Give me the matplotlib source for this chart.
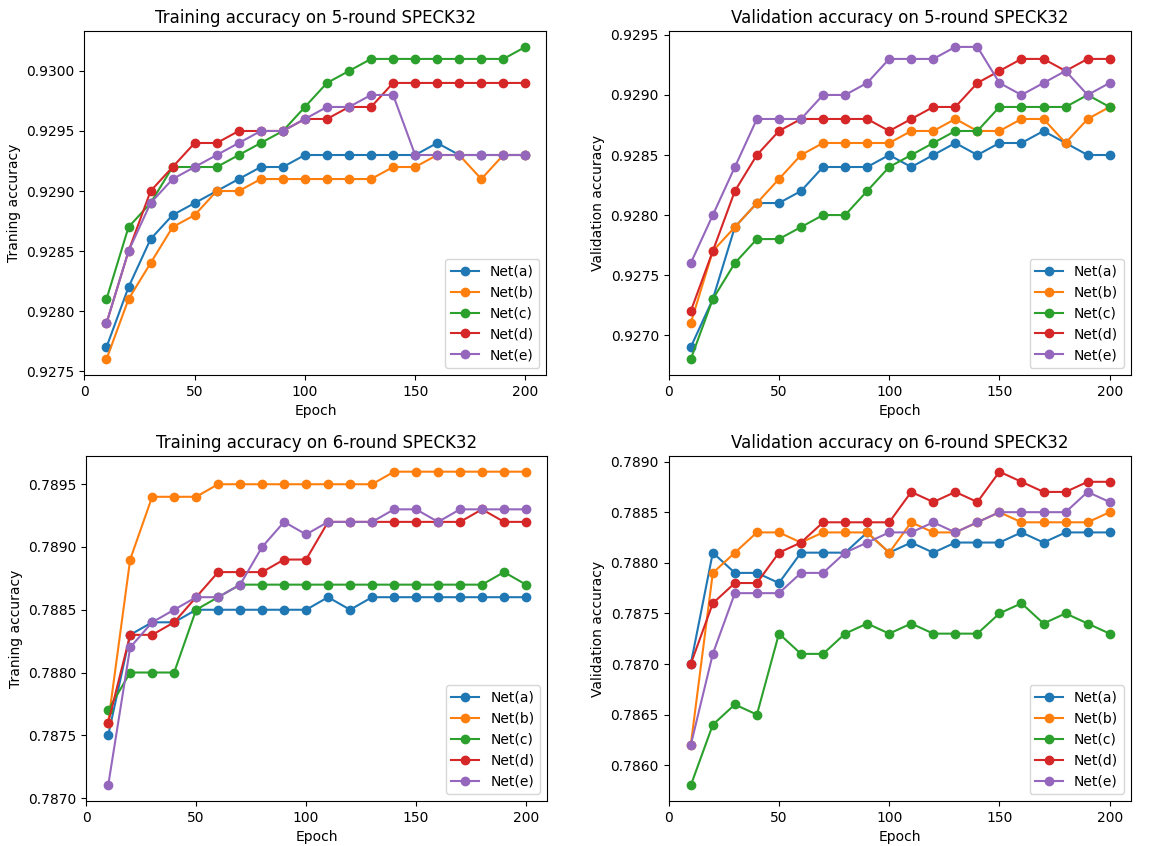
import matplotlib
matplotlib.use("Agg")
import matplotlib.pyplot as plt

epochs = list(range(10, 201, 10))
labels = ["Net(a)", "Net(b)", "Net(c)", "Net(d)", "Net(e)"]

train5_a = [.9277, .9282, .9286, .9288, .9289, .9290, .9291, .9292, .9292, .9293,
            .9293, .9293, .9293, .9293, .9293, .9294, .9293, .9293, .9293, .9293]
train5_b = [.9276, .9281, .9284, .9287, .9288, .9290, .9290, .9291, .9291, .9291,
            .9291, .9291, .9291, .9292, .9292, .9293, .9293, .9291, .9293, .9293]
train5_c = [.9281, .9287, .9289, .9292, .9292, .9292, .9293, .9294, .9295, .9297,
            .9299, .9300, .9301, .9301, .9301, .9301, .9301, .9301, .9301, .9302]
train5_d = [.9279, .9285, .9290, .9292, .9294, .9294, .9295, .9295, .9295, .9296,
            .9296, .9297, .9297, .9299, .9299, .9299, .9299, .9299, .9299, .9299]
train5_e = [.9279, .9285, .9289, .9291, .9292, .9293, .9294, .9295, .9295, .9296,
            .9297, .9297, .9298, .9298, .9293, .9293, .9293, .9293, .9293, .9293]

val5_a = [.9269, .9273, .9279, .9281, .9281, .9282, .9284, .9284, .9284, .9285,
          .9284, .9285, .9286, .9285, .9286, .9286, .9287, .9286, .9285, .9285]
val5_b = [.9271, .9277, .9279, .9281, .9283, .9285, .9286, .9286, .9286, .9286,
          .9287, .9287, .9288, .9287, .9287, .9288, .9288, .9286, .9288, .9289]
val5_c = [.9268, .9273, .9276, .9278, .9278, .9279, .9280, .9280, .9282, .9284,
          .9285, .9286, .9287, .9287, .9289, .9289, .9289, .9289, .9290, .9289]
val5_d = [.9272, .9277, .9282, .9285, .9287, .9288, .9288, .9288, .9288, .9287,
          .9288, .9289, .9289, .9291, .9292, .9293, .9293, .9292, .9293, .9293]
val5_e = [.9276, .9280, .9284, .9288, .9288, .9288, .9290, .9290, .9291, .9293,
          .9293, .9293, .9294, .9294, .9291, .9290, .9291, .9292, .9290, .9291]

train6_a = [.7875, .7883, .7884, .7884, .7885, .7885, .7885, .7885, .7885, .7885,
            .7886, .7885, .7886, .7886, .7886, .7886, .7886, .7886, .7886, .7886]
train6_b = [.7876, .7889, .7894, .7894, .7894, .7895, .7895, .7895, .7895, .7895,
            .7895, .7895, .7895, .7896, .7896, .7896, .7896, .7896, .7896, .7896]
train6_c = [.7877, .7880, .7880, .7880, .7885, .7886, .7887, .7887, .7887, .7887,
            .7887, .7887, .7887, .7887, .7887, .7887, .7887, .7887, .7888, .7887]
train6_d = [.7876, .7883, .7883, .7884, .7886, .7888, .7888, .7888, .7889, .7889,
            .7892, .7892, .7892, .7892, .7892, .7892, .7892, .7893, .7892, .7892]
train6_e = [.7871, .7882, .7884, .7885, .7886, .7886, .7887, .7890, .7892, .7891,
            .7892, .7892, .7892, .7893, .7893, .7892, .7893, .7893, .7893, .7893]

val6_a = [.7870, .7881, .7879, .7879, .7878, .7881, .7881, .7881, .7883, .7881,
          .7882, .7881, .7882, .7882, .7882, .7883, .7882, .7883, .7883, .7883]
val6_b = [.7862, .7879, .7881, .7883, .7883, .7882, .7883, .7883, .7883, .7881,
          .7884, .7883, .7883, .7884, .7885, .7884, .7884, .7884, .7884, .7885]
val6_c = [.7858, .7864, .7866, .7865, .7873, .7871, .7871, .7873, .7874, .7873,
          .7874, .7873, .7873, .7873, .7875, .7876, .7874, .7875, .7874, .7873]
val6_d = [.7870, .7876, .7878, .7878, .7881, .7882, .7884, .7884, .7884, .7884,
          .7887, .7886, .7887, .7886, .7889, .7888, .7887, .7887, .7888, .7888]
val6_e = [.7862, .7871, .7877, .7877, .7877, .7879, .7879, .7881, .7882, .7883,
          .7883, .7884, .7883, .7884, .7885, .7885, .7885, .7885, .7887, .7886]

panels = [
    ("Training accuracy on 5-round SPECK32", "Traning accuracy",
     [train5_a, train5_b, train5_c, train5_d, train5_e]),
    ("Validation accuracy on 5-round SPECK32", "Validation accuracy",
     [val5_a, val5_b, val5_c, val5_d, val5_e]),
    ("Training accuracy on 6-round SPECK32", "Traning accuracy",
     [train6_a, train6_b, train6_c, train6_d, train6_e]),
    ("Validation accuracy on 6-round SPECK32", "Validation accuracy",
     [val6_a, val6_b, val6_c, val6_d, val6_e]),
]

fig = plt.figure(figsize=(11.49, 8.46), dpi=100)
positions = [
    [0.0735, 0.557, 0.402, 0.406],
    [0.582, 0.557, 0.402, 0.406],
    [0.075, 0.053, 0.401, 0.408],
    [0.582, 0.053, 0.402, 0.408],
]
for pos, (title, ylabel, series) in zip(positions, panels):
    ax = fig.add_axes(pos)
    for lab, vals in zip(labels, series):
        ax.plot(epochs, vals, marker="o", label=lab)
    ax.set_title(title)
    ax.set_xlabel("Epoch")
    ax.set_ylabel(ylabel)
    ax.set_xticks([0, 50, 100, 150, 200])
    ax.set_xlim(0, 209.5)
    ax.legend(loc="lower right")

fig.savefig("out.png", dpi=100)
